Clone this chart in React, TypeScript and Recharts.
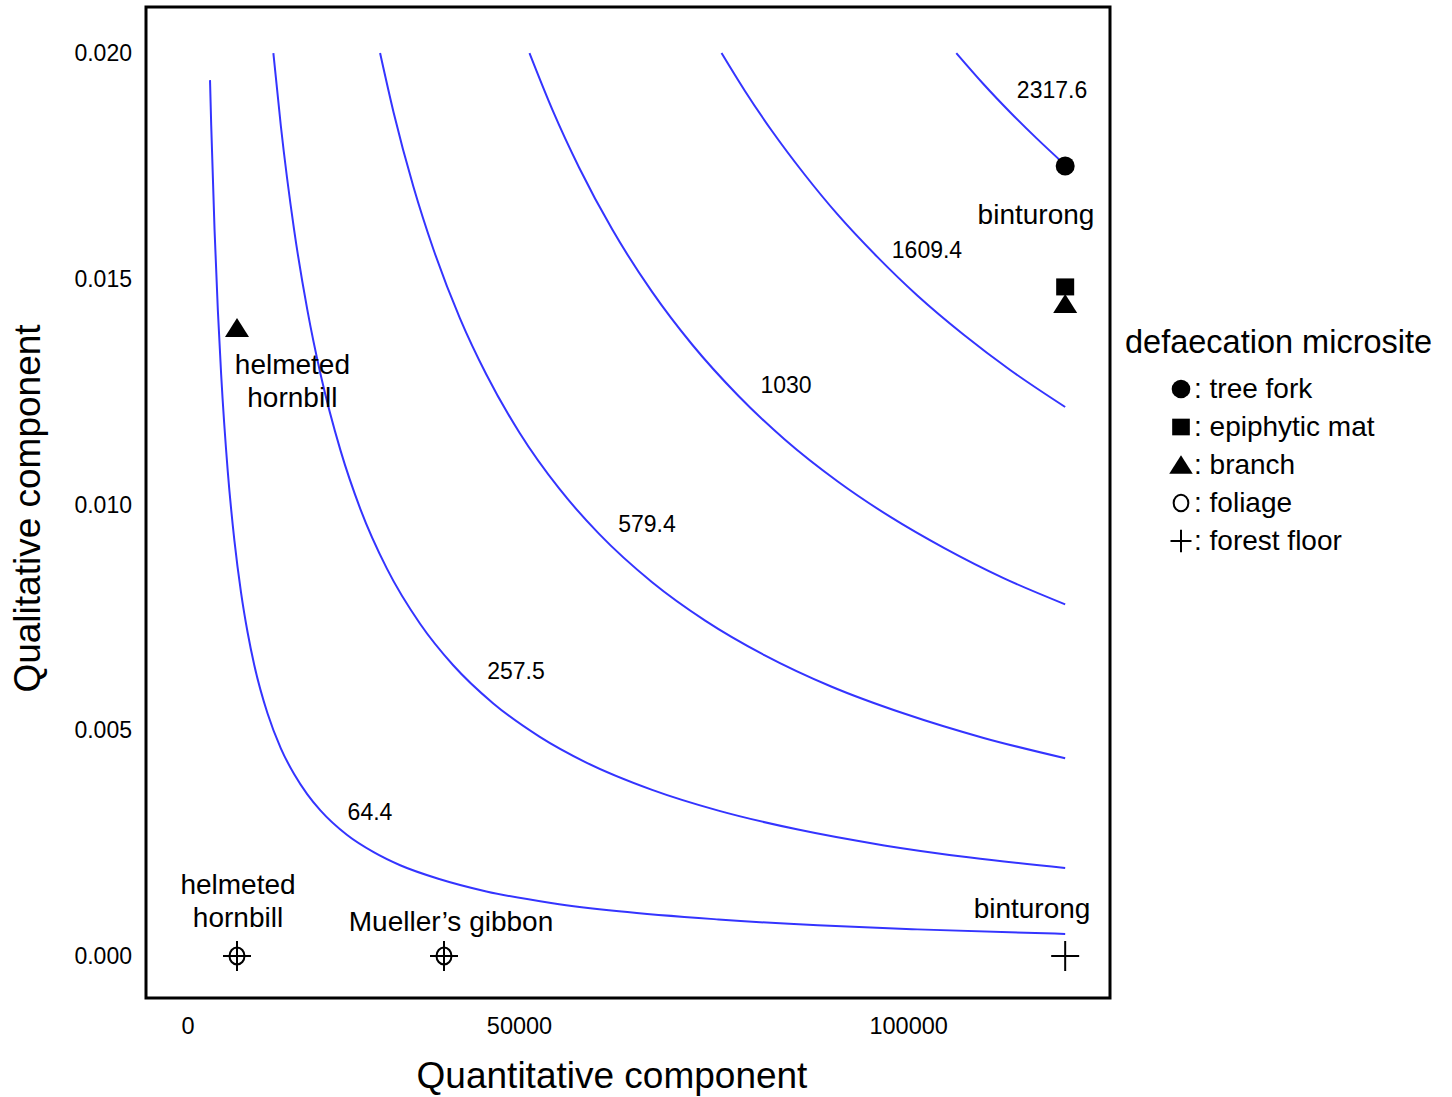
import React from 'react';
import { ComposedChart, Line, Scatter, XAxis, YAxis, ReferenceArea, Legend, Label } from 'recharts';

const FONT = '"Liberation Sans", Arial, Helvetica, sans-serif';
const CURVE_COLOR = '#3434ff';

// axis ticks
const xTickValues = [0, 50000, 108700];
const xTickLabels = ['0', '50000', '100000'];
const yTickValues = [0, 0.005, 0.01, 0.015, 0.02];
const yTickLabels = ['0.000', '0.005', '0.010', '0.015', '0.020'];
const xDomain = [-6335, 139060];
const yDomain = [-0.00093, 0.02102];

// iso-effectiveness contour lines (quantitative, qualitative)
const contour644 = [
  [3320, 0.0194], [3500, 0.0184], [4000, 0.0161], [4500, 0.01431], [5000, 0.01288], [6000, 0.01073],
  [7000, 0.0092], [8000, 0.00805], [9000, 0.00716], [10000, 0.00644], [12000, 0.00537], [14000, 0.0046],
  [16000, 0.00403], [18000, 0.00358], [20000, 0.00322], [24000, 0.00268], [28000, 0.0023], [32000, 0.00201],
  [38000, 0.0017], [45000, 0.00143], [55000, 0.00117], [65000, 0.00099], [80000, 0.00081], [95000, 0.00068],
  [110000, 0.00059], [132300, 0.00049],
];
const contour2575 = [
  [12875, 0.02], [14000, 0.01839], [16000, 0.01609], [18000, 0.01431], [20000, 0.01288], [23000, 0.0112],
  [26000, 0.0099], [30000, 0.00858], [35000, 0.00736], [40000, 0.00644], [46000, 0.0056], [53000, 0.00486],
  [60000, 0.00429], [70000, 0.00368], [80000, 0.00322], [92000, 0.0028], [105000, 0.00245], [118000, 0.00218],
  [132300, 0.00195],
];
const contour5794 = [
  [28970, 0.02], [31000, 0.01869], [34000, 0.01704], [37000, 0.01566], [41000, 0.01413], [45000, 0.01288],
  [50000, 0.01159], [56000, 0.01035], [62000, 0.00935], [70000, 0.00828], [78000, 0.00743], [87000, 0.00666],
  [97000, 0.00597], [108000, 0.00537], [120000, 0.00483], [132300, 0.00438],
];
const contour1030 = [
  [51500, 0.02], [55000, 0.01873], [59000, 0.01746], [64000, 0.01609], [70000, 0.01471], [76000, 0.01355],
  [83000, 0.01241], [90000, 0.01144], [98000, 0.01051], [106000, 0.00972], [114000, 0.00904], [123000, 0.00837],
  [132300, 0.00779],
];
const contour16094 = [
  [80470, 0.02], [84000, 0.01916], [88000, 0.01829], [93000, 0.01731], [98000, 0.01642], [104000, 0.01548],
  [110000, 0.01463], [117000, 0.01376], [124000, 0.01298], [132300, 0.01216],
];
const contour23176 = [
  [115880, 0.02], [120000, 0.01931], [124000, 0.01869], [128000, 0.01811], [132300, 0.01752],
];

const contourLevelLabels = ['64.4', '257.5', '579.4', '1030', '1609.4', '2317.6'];
const contourLabelX = [27450, 49470, 69230, 90200, 111460, 130320];
const contourLabelY = [0.00319, 0.00631, 0.00957, 0.01265, 0.01564, 0.01918];

// defaecation microsite points
const micrositeNames = ['tree fork', 'epiphytic mat', 'branch', 'foliage', 'forest floor'];
const treeFork = [[132300, 0.0175]];
const epiphyticMat = [[132300, 0.01482]];
const branch = [[7390, 0.01391], [132300, 0.01444]];
const foliage = [[7390, 0], [38610, 0]];
const forestFloor = [[7390, 0], [38610, 0], [132300, 0]];

// species annotations
const speciesText = ['binturong', 'helmeted\nhornbill', 'helmeted\nhornbill', 'Mueller\u2019s gibbon', 'binturong'];
const speciesX = [127900, 15750, 7540, 39670, 127300];
const speciesY = [0.016434, 0.012757, 0.001229, 0.000775, 0.001063];

const toPts = (arr: number[][]) => arr.map(([x, y]) => ({ x, y }));
const contours = [contour644, contour2575, contour5794, contour1030, contour16094, contour23176].map(toPts);
const contourLabelData = contourLevelLabels.map((t, i) => ({ x: contourLabelX[i], y: contourLabelY[i], text: t }));
const speciesLabelData = speciesText.map((t, i) => ({ x: speciesX[i], y: speciesY[i], text: t }));
const micrositeData = [treeFork, epiphyticMat, branch, foliage, forestFloor].map(toPts);

const glyph = (kind: string, cx: number, cy: number, scale = 1) => {
  switch (kind) {
    case 'tree fork':
      return <circle cx={cx} cy={cy} r={9.5 * scale} fill="#000" />;
    case 'epiphytic mat':
      return <rect x={cx - 9 * scale} y={cy - 8.5 * scale} width={18 * scale} height={17 * scale} fill="#000" />;
    case 'branch':
      return (
        <polygon
          points={`${cx},${cy - 10 * scale} ${cx - 12 * scale},${cy + 9 * scale} ${cx + 12 * scale},${cy + 9 * scale}`}
          fill="#000"
        />
      );
    case 'foliage':
      return <ellipse cx={cx} cy={cy} rx={7.5 * scale} ry={8.5 * scale} fill="none" stroke="#000" strokeWidth={2} />;
    default:
      return (
        <g stroke="#000" strokeWidth={2}>
          <line x1={cx - 14 * scale} x2={cx + 14 * scale} y1={cy} y2={cy} />
          <line x1={cx} x2={cx} y1={cy - 15 * scale} y2={cy + 15 * scale} />
        </g>
      );
  }
};

const makeShape = (kind: string) => (props: any) => {
  const { cx, cy } = props;
  if (cx == null || cy == null) return <g />;
  return glyph(kind, cx, cy);
};

const textShape = (fontSize: number, lineHeight: number) => (props: any) => {
  const { cx, cy, payload } = props;
  const lines = String(payload.text).split('\n');
  const first = cy - ((lines.length - 1) * lineHeight) / 2;
  return (
    <text x={cx} y={first} textAnchor="middle" fontSize={fontSize} fontFamily={FONT} fill="#000">
      {lines.map((l, i) => (
        <tspan key={i} x={cx} y={first + i * lineHeight} dy="0.36em">
          {l}
        </tspan>
      ))}
    </text>
  );
};

const renderLegend = () => (
  <div style={{ fontFamily: FONT, color: '#000' }}>
    <div style={{ fontSize: 32.5, lineHeight: '36px', whiteSpace: 'nowrap' }}>defaecation microsite</div>
    <div style={{ marginTop: 10 }}>
      {micrositeNames.map((name) => (
        <div
          key={name}
          style={{ display: 'flex', alignItems: 'center', marginLeft: 44, height: 38, fontSize: 28, whiteSpace: 'nowrap' }}
        >
          <svg width={25} height={24} style={{ display: 'block' }}>
            {glyph(name, 12, 12, name === 'forest floor' ? 0.75 : 0.98)}
          </svg>
          <span>: {name}</span>
        </div>
      ))}
    </div>
  </div>
);

const YTitle = (props: any) => {
  const { viewBox } = props;
  const x = viewBox.x + 27;
  const y = viewBox.y + viewBox.height / 2 + 6;
  return (
    <text
      x={x}
      y={y}
      transform={`rotate(-90, ${x}, ${y})`}
      textAnchor="middle"
      dy="0.36em"
      fontSize={37}
      fontFamily={FONT}
      fill="#000"
    >
      Qualitative component
    </text>
  );
};

const XTitle = (props: any) => {
  const { viewBox } = props;
  const x = viewBox.x + viewBox.width / 2 - 16;
  const y = viewBox.y + 90;
  return (
    <text x={x} y={y} textAnchor="middle" fontSize={37} fontFamily={FONT} fill="#000">
      Quantitative component
    </text>
  );
};

export default function App() {
  return (
    <div style={{ position: 'absolute', left: 0, top: 0, background: '#fff' }}>
      <ComposedChart width={1452} height={1097} margin={{ top: 7, right: 342, bottom: 0, left: 0 }}>
        <XAxis
          type="number"
          dataKey="x"
          domain={xDomain}
          allowDataOverflow
          ticks={xTickValues}
          tickFormatter={(v: number, i: number) => xTickLabels[i] ?? String(v)}
          interval={0}
          axisLine={false}
          tickLine={false}
          tickSize={0}
          tickMargin={19}
          height={99}
          tick={{ fontSize: 23.5, fill: '#000', fontFamily: FONT }}
        >
          <Label content={XTitle} />
        </XAxis>
        <YAxis
          type="number"
          dataKey="y"
          domain={yDomain}
          allowDataOverflow
          ticks={yTickValues}
          tickFormatter={(v: number, i: number) => yTickLabels[i] ?? String(v)}
          interval={0}
          axisLine={false}
          tickLine={false}
          tickSize={0}
          tickMargin={14}
          width={146}
          tick={{ fontSize: 23, fill: '#000', fontFamily: FONT }}
        >
          <Label content={YTitle} />
        </YAxis>
        {contours.map((d, i) => (
          <Line
            key={`c${i}`}
            data={d}
            dataKey="y"
            type="monotone"
            stroke={CURVE_COLOR}
            strokeWidth={2}
            dot={false}
            activeDot={false}
            legendType="none"
            isAnimationActive={false}
          />
        ))}
        {micrositeData.map((d, i) => (
          <Scatter
            key={`m${i}`}
            name={micrositeNames[i]}
            data={d}
            dataKey="y"
            shape={makeShape(micrositeNames[i])}
            isAnimationActive={false}
          />
        ))}
        <Scatter data={contourLabelData} dataKey="y" shape={textShape(23, 0)} legendType="none" isAnimationActive={false} />
        <Scatter data={speciesLabelData} dataKey="y" shape={textShape(28, 33)} legendType="none" isAnimationActive={false} />
        <ReferenceArea
          x1={xDomain[0]}
          x2={xDomain[1]}
          y1={yDomain[0]}
          y2={yDomain[1]}
          fill="none"
          stroke="#000"
          strokeWidth={3}
          ifOverflow="visible"
        />
        <Legend
          layout="vertical"
          align="center"
          verticalAlign="middle"
          content={renderLegend}
          wrapperStyle={{ left: 1125, top: 324, width: 327 }}
        />
      </ComposedChart>
    </div>
  );
}
